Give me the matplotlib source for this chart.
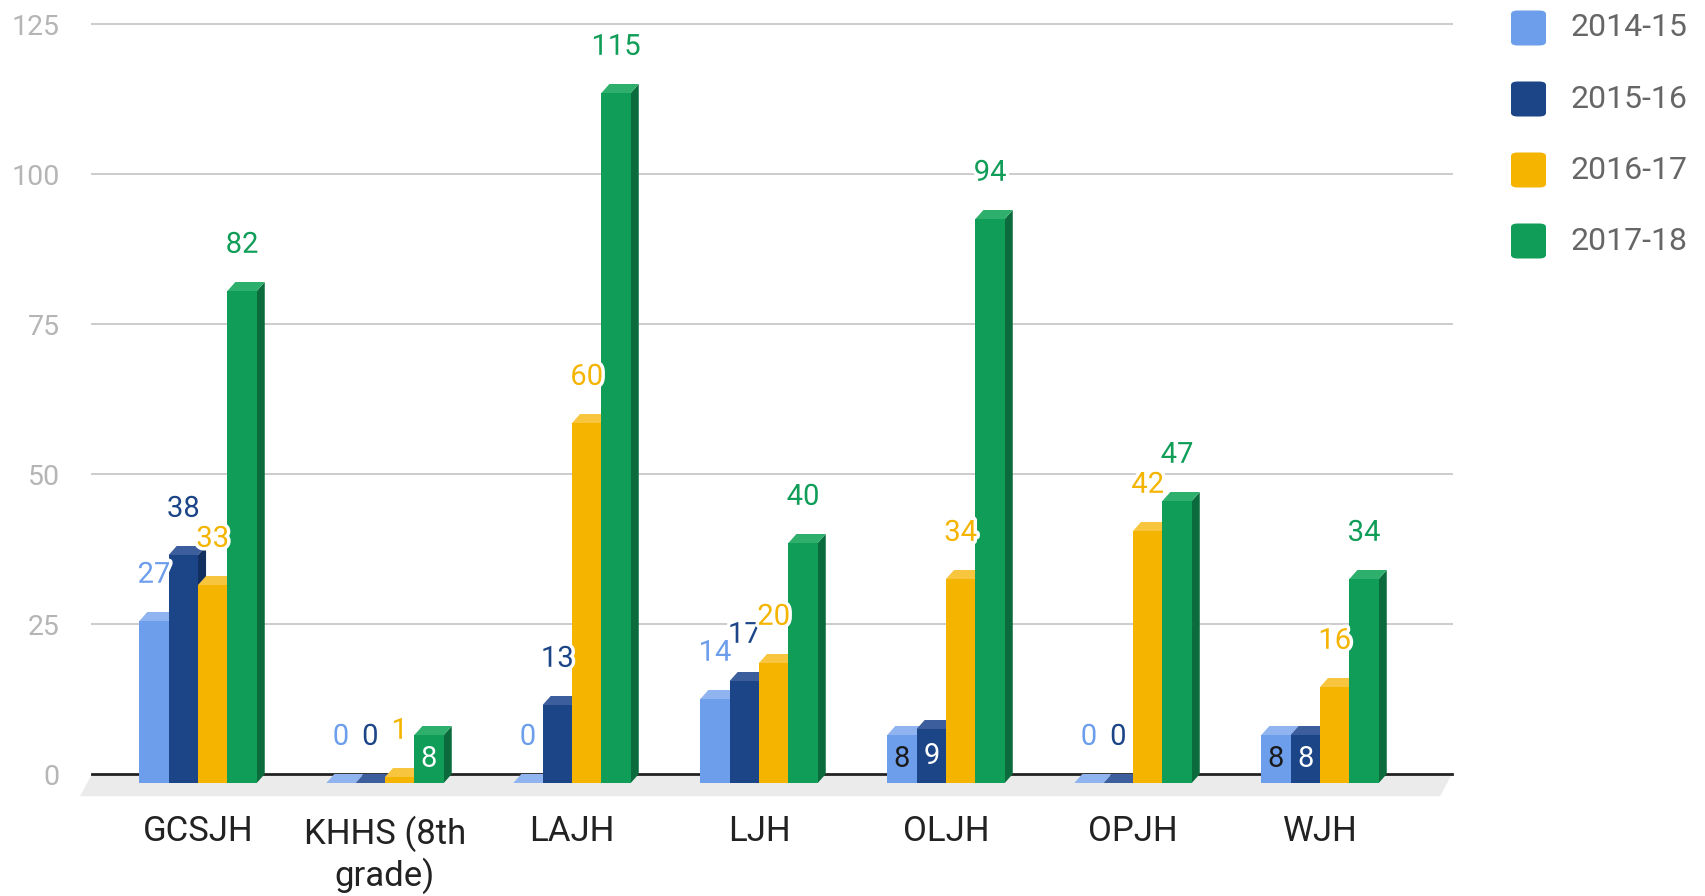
import matplotlib
matplotlib.use("Agg")
import matplotlib.pyplot as plt
import matplotlib.patheffects as pe
from matplotlib.patches import Polygon, Rectangle, FancyBboxPatch

plt.rcParams['font.family'] = ['Roboto', 'DejaVu Sans']

# ---- data ----
categories = ['GCSJH', 'KHHS (8th\ngrade)', 'LAJH', 'LJH', 'OLJH', 'OPJH', 'WJH']
series_names = ['2014-15', '2015-16', '2016-17', '2017-18']
v_2014_15 = [27, 0, 0, 14, 8, 0, 8]
v_2015_16 = [38, 0, 13, 17, 9, 0, 8]
v_2016_17 = [33, 1, 60, 20, 34, 42, 16]
v_2017_18 = [82, 8, 115, 40, 94, 47, 34]
series_values = [v_2014_15, v_2015_16, v_2016_17, v_2017_18]
yticks = [0, 25, 50, 75, 100, 125]

# ---- styles ----
front = ['#6d9eeb', '#1c4587', '#f4b400', '#0f9d58']
top = ['#8fb4f0', '#3d5e9c', '#f7c53e', '#2eb06c']
side = ['#5583cf', '#12305f', '#d39d00', '#0b6b3c']
inside_txt = ['#1a1a1a', 'white', 'white', 'white']

W, H = 1705, 896
fig = plt.figure(figsize=(W / 100, H / 100), dpi=100)
ax = fig.add_axes([86 / W, (H - 822) / H, (1460 - 86) / W, (822 - 12) / H])
ax.set_xlim((86 - 198) / 187, (1460 - 198) / 187)
ax.set_ylim(-8, 127)
for s in ax.spines.values():
    s.set_visible(False)
ax.set_xticks([])
ax.set_yticks(yticks)
ax.set_yticklabels([str(t) for t in yticks], fontsize=20.5, color='#b5b5b5')
ax.tick_params(axis='y', length=0, pad=19)

gx0, gx1 = (92 - 198) / 187, (1452 - 198) / 187
for t in yticks[1:]:
    ax.plot([gx0, gx1], [t, t], color='#cccccc', lw=1.4, zorder=1)

w = 0.157
dx = 0.043
dy = 1.5
fdx = 0.064
floor = Polygon([(gx0, 0), (gx1, 0), (gx1 - fdx, -3.7), (gx0 - fdx, -3.7)],
                closed=True, facecolor='#ebebeb', edgecolor='none', zorder=1.5, clip_on=False)
ax.add_patch(floor)
ax.plot([gx0, gx1], [0, 0], color='#222222', lw=2, zorder=2)

halo = [pe.withStroke(linewidth=5, foreground='white')]
for j in range(len(categories)):
    for i, vals in enumerate(series_values):
        v = vals[j]
        x = j + (i - 2) * w
        z = 3 + i * 0.1
        ax.add_patch(Polygon([(x + w, -dy), (x + w + dx, 0), (x + w + dx, v), (x + w, v - dy)],
                             closed=True, facecolor=side[i], edgecolor='none', zorder=z))
        ax.add_patch(Polygon([(x, v - dy), (x + w, v - dy), (x + w + dx, v), (x + dx, v)],
                             closed=True, facecolor=top[i], edgecolor='none', zorder=z + 0.01))
        ax.add_patch(Rectangle((x, -dy), w, v, facecolor=front[i], edgecolor='none', zorder=z + 0.02))
        if 5 <= v < 12:
            ax.text(x + w / 2, v / 2 - dy, str(v), ha='center', va='center', fontsize=21,
                    color=inside_txt[i], zorder=10)
        else:
            ax.text(x + w / 2, v - dy + 7.7, str(v), ha='center', va='center', fontsize=21,
                    color=front[i], zorder=10 + i * 0.1, path_effects=halo)

for j, c in enumerate(categories):
    ax.text(j, -6.9, c, ha='center', va='top', fontsize=25, color='#222222',
            linespacing=1.2, clip_on=False)

# ---- legend ----
row_y = [28, 99, 170, 241]
for i, name in enumerate(series_names):
    cy = row_y[i]
    sq = FancyBboxPatch((1511 / W, (H - cy - 17.5) / H), 35 / W, 35 / H,
                        boxstyle='round,pad=0,rounding_size=0.004',
                        transform=fig.transFigure, facecolor=front[i], edgecolor='none')
    fig.patches.append(sq)
    fig.text(1570 / W, (H - cy) / H, name, ha='left', va='center', fontsize=23, color='#666666')

fig.savefig('out.png', dpi=100, facecolor='white')
